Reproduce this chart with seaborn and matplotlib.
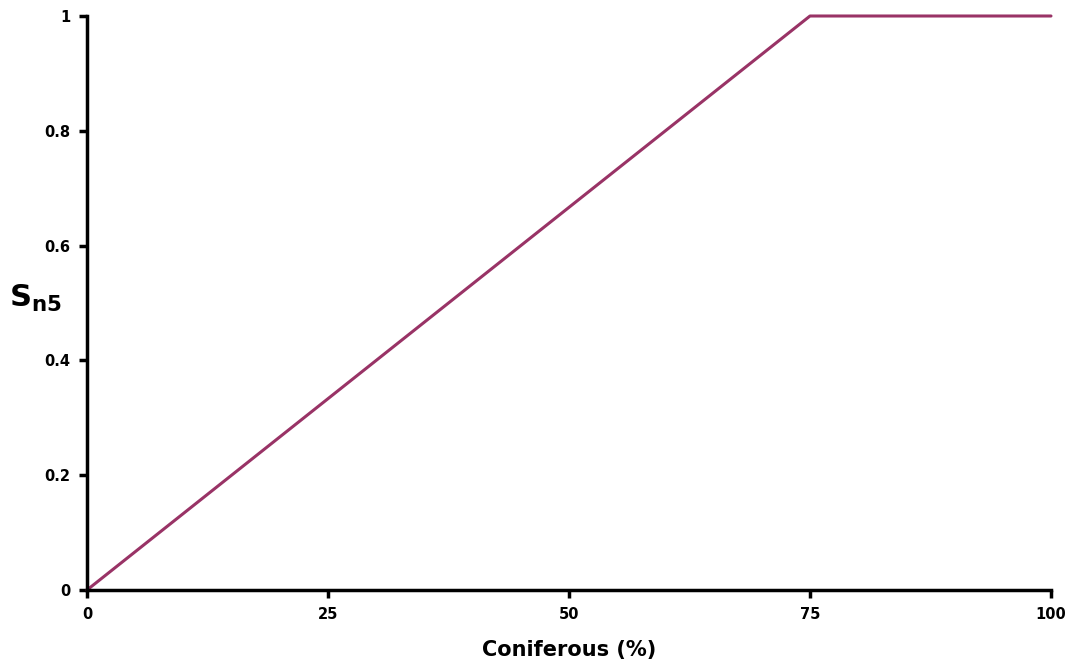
import pandas as pd
import matplotlib
matplotlib.use("Agg")
import matplotlib.pyplot as plt
import seaborn as sns

# ── Data ───────────────────────────────────────────────────────────────────────
coniferous = [0, 75, 100]
sn5 = [0, 1, 1]
x_ticks = [0, 25, 50, 75, 100]
y_ticks = [0, 0.2, 0.4, 0.6, 0.8, 1]
y_tick_labels = ["0", "0.2", "0.4", "0.6", "0.8", "1"]

df = pd.DataFrame({"Coniferous": coniferous, "Sn5": sn5})

sns.set_theme(style="white")
plt.rcParams["font.family"] = ["DejaVu Sans"]
plt.rcParams["font.weight"] = "bold"
plt.rcParams["text.color"] = "black"
plt.rcParams["axes.labelcolor"] = "black"
plt.rcParams["xtick.color"] = "black"
plt.rcParams["ytick.color"] = "black"

fig = plt.figure(figsize=(10.7, 6.67), dpi=100)
ax = fig.add_axes([87 / 1070, 1 - 590 / 667, (1051 - 87) / 1070, (590 - 16) / 667])

sns.lineplot(data=df, x="Coniferous", y="Sn5", ax=ax, color="#993366",
             linewidth=2.2, clip_on=False)

ax.set_xlim(0, 100)
ax.set_ylim(0, 1)
ax.set_xticks(x_ticks)
ax.set_xticklabels([str(t) for t in x_ticks], fontsize=10.5, fontweight="bold")
ax.set_yticks(y_ticks)
ax.set_yticklabels(y_tick_labels, fontsize=10.5, fontweight="bold")
ax.tick_params(axis="both", direction="out", length=6, width=2.5, colors="black",
               bottom=True, left=True, pad=6)

for side in ["top", "right"]:
    ax.spines[side].set_visible(False)
for side in ["left", "bottom"]:
    ax.spines[side].set_color("black")
    ax.spines[side].set_linewidth(2.5)

ax.set_xlabel("Coniferous (%)", fontsize=15, fontweight="bold", labelpad=13)
ax.set_ylabel(r"$\mathbf{S_{n5}}$", fontsize=22, rotation=0)
ax.yaxis.set_label_coords(-0.053, 0.48)

fig.savefig("out.png", dpi=100)
plt.close(fig)
